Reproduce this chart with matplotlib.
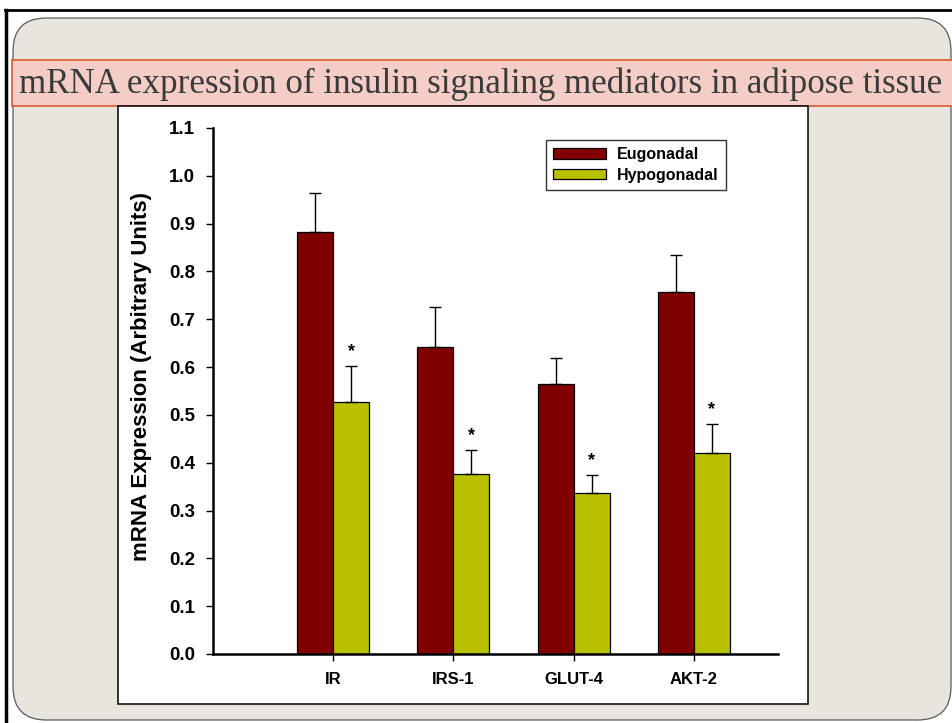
import matplotlib
matplotlib.use("Agg")
import matplotlib.pyplot as plt
from matplotlib.patches import FancyBboxPatch, Rectangle
from matplotlib.lines import Line2D
import numpy as np

# Mean relative expression and SEM per gene
genes = ['IR', 'IRS-1', 'GLUT-4', 'AKT-2']
eugonadal = [0.882, 0.643, 0.564, 0.757]
eugonadal_sem = [0.083, 0.083, 0.054, 0.077]
hypogonadal = [0.526, 0.376, 0.337, 0.421]
hypogonadal_sem = [0.077, 0.050, 0.037, 0.060]
significant = [True, True, True, True]
y_ticks = [0.0, 0.1, 0.2, 0.3, 0.4, 0.5, 0.6, 0.7, 0.8, 0.9, 1.0, 1.1]

W, H = 952, 723
fig = plt.figure(figsize=(W / 100, H / 100), dpi=100)
fig.patch.set_facecolor('white')


def px(x, y):
    """Pixel position (top-left origin) to figure fraction."""
    return x / W, 1 - y / H


def box(x0, y0, x1, y1):
    fx0, fy1 = px(x0, y0)
    fx1, fy0 = px(x1, y1)
    return fx0, fy0, fx1 - fx0, fy1 - fy0


# slide frame and background (kept below the axes)
fig.add_artist(Line2D([px(5, 0)[0], 1], [px(0, 10)[1]] * 2, color='black', lw=2, zorder=-5))
fig.add_artist(Line2D([px(6, 0)[0]] * 2, [px(0, 10)[1], 0], color='black', lw=2.5, zorder=-5))
x, y, w, h = box(13, 18, 951, 720)
fig.add_artist(FancyBboxPatch((x, y), w, h, boxstyle='round,pad=0,rounding_size=0.035',
                              mutation_aspect=W / H, facecolor='#e8e4de',
                              edgecolor='#5a5a5a', lw=0.9, zorder=-5))

# title banner
x, y, w, h = box(12, 60, 955, 106)
fig.add_artist(Rectangle((x, y), w, h, facecolor='#f4cdc7', edgecolor='#e0603a', lw=1.3, zorder=-4))
fig.text(*px(19, 84), 'mRNA expression of insulin signaling mediators in adipose tissue',
         family='Liberation Serif', fontsize=25.2, color='#3a3a3a', va='center', ha='left')

# white chart panel
x, y, w, h = box(118, 106, 808, 704)
fig.add_artist(Rectangle((x, y), w, h, facecolor='white', edgecolor='black', lw=1.1, zorder=-4))

ax = fig.add_axes(box(213, 128, 778, 654))
ax.set_facecolor('white')

pos = np.arange(1, len(genes) + 1)
bw = 0.3
zeros = np.zeros(len(genes))
err_kw = dict(elinewidth=1, capsize=4, capthick=1, ecolor='black')
ax.bar(pos - bw / 2, eugonadal, bw, yerr=[zeros, eugonadal_sem], color='#800000',
       edgecolor='black', lw=0.9, error_kw=err_kw, label='Eugonadal')
ax.bar(pos + bw / 2, hypogonadal, bw, yerr=[zeros, hypogonadal_sem], color='#b8c000',
       edgecolor='black', lw=0.9, error_kw=err_kw, label='Hypogonadal')

for p, v, e, s in zip(pos, hypogonadal, hypogonadal_sem, significant):
    if s:
        ax.text(p + bw / 2, v + e + 0.012, '*', ha='center', va='bottom',
                fontsize=13, fontweight='bold', family='Liberation Sans')

ax.set_xlim(0, 4.7)
ax.set_ylim(0, 1.1)
ax.set_yticks(y_ticks)
ax.set_yticklabels([f'{t:.1f}' for t in y_ticks])
ax.set_xticks(pos)
ax.set_xticklabels(genes)
for s in ['top', 'right']:
    ax.spines[s].set_visible(False)
for s in ['left', 'bottom']:
    ax.spines[s].set_linewidth(1.8)
ax.tick_params(axis='both', direction='out', length=5, width=1)
ax.tick_params(axis='y', pad=8)
ax.tick_params(axis='x', pad=8)
for lab in ax.get_yticklabels():
    lab.set_fontproperties({'family': 'Liberation Sans', 'weight': 'bold', 'size': 13.5})
for lab in ax.get_xticklabels():
    lab.set_fontproperties({'family': 'Liberation Sans', 'weight': 'bold', 'size': 12})
ax.set_ylabel('mRNA Expression (Arbitrary Units)', family='Liberation Sans',
              fontweight='bold', fontsize=16)
ax.yaxis.set_label_coords(-0.108, 0.527)

leg = ax.legend(loc='upper left', bbox_to_anchor=((546 - 213) / 565, 1 - 12 / 526),
                borderaxespad=0, frameon=True, fancybox=False, edgecolor='black',
                handlelength=3.3, handleheight=0.65, borderpad=0.45, labelspacing=0.35,
                handletextpad=0.7,
                prop={'family': 'Liberation Sans', 'weight': 'bold', 'size': 11.5})
leg.get_frame().set_linewidth(1)

fig.savefig('out.png', dpi=100)
